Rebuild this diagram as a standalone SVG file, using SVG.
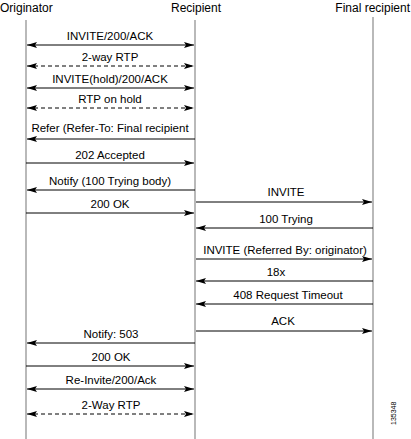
<svg xmlns="http://www.w3.org/2000/svg" width="411" height="439" viewBox="0 0 411 439">
<style>
text{font-family:"Liberation Sans",Arial,sans-serif;font-size:11.5px;fill:#000}
.hdr{font-size:12px}
.lbl{text-anchor:middle}
.life{stroke:#a8a8a8;stroke-width:1.6;fill:none}
.msg{stroke:#000;stroke-width:1;fill:none}
.dash{stroke-dasharray:4,3}
</style>
<defs>
<marker id="ah" viewBox="0 0 10 6" refX="10" refY="3" markerWidth="10" markerHeight="6" markerUnits="userSpaceOnUse" orient="auto-start-reverse">
<path d="M0,0 L10,3 L0,6 L2,3 Z" fill="#000"/>
</marker>
</defs>
<rect width="411" height="439" fill="#fff"/>
<g id="originator">
<text x="0" y="12" class="hdr">Originator</text>
<line class="life" x1="26" y1="20" x2="26" y2="439"/>
</g>
<g id="recipient">
<text x="196" y="12" class="lbl hdr">Recipient</text>
<line class="life" x1="195" y1="20" x2="195" y2="439"/>
</g>
<g id="final">
<text x="410" y="12" text-anchor="end" class="hdr">Final recipient</text>
<line class="life" x1="373" y1="17" x2="373" y2="439"/>
</g>
<g id="connectors">
<line class="msg" x1="27" y1="45" x2="194" y2="45" marker-start="url(#ah)" marker-end="url(#ah)"/>
<line class="msg dash" x1="27" y1="66" x2="194" y2="66" marker-start="url(#ah)" marker-end="url(#ah)"/>
<line class="msg" x1="27" y1="88" x2="194" y2="88" marker-start="url(#ah)" marker-end="url(#ah)"/>
<line class="msg dash" x1="27" y1="108" x2="194" y2="108" marker-start="url(#ah)" marker-end="url(#ah)"/>
<line class="msg" x1="195" y1="139" x2="27" y2="139" marker-end="url(#ah)"/>
<line class="msg" x1="26" y1="163" x2="194" y2="163" marker-end="url(#ah)"/>
<line class="msg" x1="195" y1="190" x2="27" y2="190" marker-end="url(#ah)"/>
<line class="msg" x1="26" y1="213" x2="194" y2="213" marker-end="url(#ah)"/>
<line class="msg" x1="196" y1="202" x2="372" y2="202" marker-end="url(#ah)"/>
<line class="msg" x1="373" y1="228" x2="196" y2="228" marker-end="url(#ah)"/>
<line class="msg" x1="196" y1="259" x2="372" y2="259" marker-end="url(#ah)"/>
<line class="msg" x1="373" y1="281" x2="196" y2="281" marker-end="url(#ah)"/>
<line class="msg" x1="373" y1="304" x2="196" y2="304" marker-end="url(#ah)"/>
<line class="msg" x1="196" y1="331" x2="372" y2="331" marker-end="url(#ah)"/>
<line class="msg" x1="195" y1="343" x2="27" y2="343" marker-end="url(#ah)"/>
<line class="msg" x1="26" y1="366" x2="194" y2="366" marker-end="url(#ah)"/>
<line class="msg" x1="27" y1="389" x2="194" y2="389" marker-start="url(#ah)" marker-end="url(#ah)"/>
<line class="msg dash" x1="27" y1="414" x2="194" y2="414" marker-start="url(#ah)" marker-end="url(#ah)"/>
</g>
<g id="labels">
<text x="110" y="40" class="lbl">INVITE/200/ACK</text>
<text x="110" y="61" class="lbl">2-way RTP</text>
<text x="110" y="83" class="lbl">INVITE(hold)/200/ACK</text>
<text x="110" y="103" class="lbl">RTP on hold</text>
<text x="110" y="132" class="lbl">Refer (Refer-To: Final recipient</text>
<text x="110" y="159" class="lbl">202 Accepted</text>
<text x="110" y="185" class="lbl">Notify (100 Trying body)</text>
<text x="110" y="208" class="lbl">200 OK</text>
<text x="286" y="196" class="lbl">INVITE</text>
<text x="286" y="223" class="lbl">100 Trying</text>
<text x="285" y="254" class="lbl">INVITE (Referred By: originator)</text>
<text x="276" y="276" class="lbl">18x</text>
<text x="288" y="299" class="lbl">408 Request Timeout</text>
<text x="283" y="325" class="lbl">ACK</text>
<text x="111" y="338" class="lbl">Notify: 503</text>
<text x="111" y="361" class="lbl">200 OK</text>
<text x="111" y="384" class="lbl">Re-Invite/200/Ack</text>
<text x="111" y="409" class="lbl">2-Way RTP</text>
<text transform="translate(396,425) rotate(-90)" style="font-size:7px">135348</text>
</g>
</svg>
